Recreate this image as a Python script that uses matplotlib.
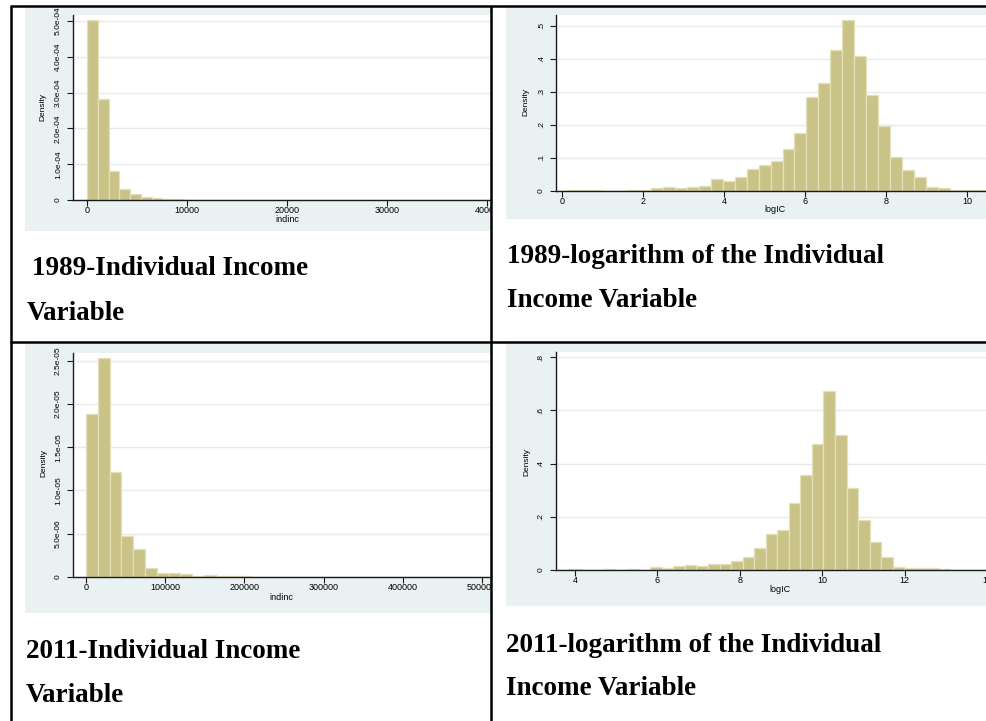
import numpy as np
import matplotlib
matplotlib.use("Agg")
import matplotlib.pyplot as plt
from matplotlib import font_manager
from matplotlib.patches import Rectangle
from matplotlib.lines import Line2D
from matplotlib.transforms import Bbox, TransformedBbox

W, H = 987, 721

# ---- histogram data (bin start, bin width, density per bin) ----
inc89_start, inc89_width = 0, 1075
inc89_density = np.array([5.03, 2.82, 0.80, 0.31, 0.17, 0.09, 0.056, 0.028, 0.02,
                          0.012, 0.008, 0.006, 0.006, 0.004, 0.004, 0.003, 0.003,
                          0.002, 0, 0.001, 0, 0, 0, 0.002, 0.001, 0, 0, 0, 0, 0,
                          0, 0, 0, 0.001, 0, 0, 0]) * 1e-4

log89_start, log89_width = 0.133, 0.295
log89_density = np.array([0.002, 0.002, 0.002, 0, 0, 0.002, 0.001, 0.007, 0.010,
                          0.008, 0.011, 0.014, 0.035, 0.029, 0.041, 0.066, 0.079,
                          0.091, 0.125, 0.174, 0.284, 0.325, 0.426, 0.518, 0.408,
                          0.289, 0.196, 0.102, 0.063, 0.041, 0.011, 0.009, 0.001,
                          0.002, 0.001])

inc11_start, inc11_width = 0, 14900
inc11_density = np.array([18.9, 25.3, 12.1, 4.68, 3.17, 0.97, 0.43, 0.43, 0.30,
                          0.08, 0.15, 0.03, 0.03, 0.03, 0, 0.02, 0, 0, 0.02, 0.02,
                          0.02, 0.02, 0, 0.02, 0, 0, 0, 0, 0, 0, 0, 0, 0.02]) * 1e-6

log11_start, log11_width = 3.870, 0.2801
log11_density = np.array([0.002, 0, 0, 0.003, 0, 0.003, 0, 0.010, 0.006, 0.014,
                          0.018, 0.015, 0.023, 0.021, 0.034, 0.048, 0.084, 0.137,
                          0.149, 0.251, 0.359, 0.475, 0.673, 0.507, 0.307, 0.187,
                          0.107, 0.048, 0.010, 0.006, 0.006, 0.006, 0.002])

inc89_xticks = [0, 10000, 20000, 30000, 40000]
inc89_yticks = [0, 1e-4, 2e-4, 3e-4, 4e-4, 5e-4]
inc89_ylabels = ["0", "1.0e-04", "2.0e-04", "3.0e-04", "4.0e-04", "5.0e-04"]

log89_xticks = [0, 2, 4, 6, 8, 10]
log89_yticks = [0, 0.1, 0.2, 0.3, 0.4, 0.5]
log89_ylabels = ["0", ".1", ".2", ".3", ".4", ".5"]

inc11_xticks = [0, 100000, 200000, 300000, 400000, 500000]
inc11_yticks = [0, 5e-6, 1e-5, 1.5e-5, 2e-5, 2.5e-5]
inc11_ylabels = ["0", "5.0e-06", "1.0e-05", "1.5e-05", "2.0e-05", "2.5e-05"]

log11_xticks = [4, 6, 8, 10, 12, 14]
log11_yticks = [0, 0.2, 0.4, 0.6, 0.8]
log11_ylabels = ["0", ".2", ".4", ".6", ".8"]

captions = [
    ("1989-Individual Income", "Variable"),
    ("1989-logarithm of the Individual", "Income Variable"),
    ("2011-Individual Income", "Variable"),
    ("2011-logarithm of the Individual", "Income Variable"),
]

# ---- styling ----
GRAPH_BG = "#eaf1f3"
GRID = "#e3ebee"
BAR = "#cac388"
BAR_EDGE = "#e4e0bb"

names = {f.name for f in font_manager.fontManager.ttflist}
NARROW = "Liberation Sans Narrow" if "Liberation Sans Narrow" in names else "Liberation Sans"
SANS = "Liberation Sans"
SERIF = "Liberation Serif"

fig = plt.figure(figsize=(W / 100, H / 100), dpi=100)
fig.patch.set_facecolor("white")


def fx(x):
    return x / W


def fy(y):
    return 1 - y / H


def cell_clip(x0, y0, x1, y1):
    return TransformedBbox(Bbox([[fx(x0), fy(y1)], [fx(x1), fy(y0)]]), fig.transFigure)


def histogram(cell, bg, plot, start, width, dens, xlim, ylim,
              xticks, yticks, ylabels, xlabel, xlabel_pos, ylabel_pos):
    # grey graph region behind the plot
    fig.add_artist(Rectangle((fx(bg[0]), fy(bg[3])), fx(bg[2]) - fx(bg[0]),
                             fy(bg[1]) - fy(bg[3]), transform=fig.transFigure,
                             facecolor=GRAPH_BG, edgecolor="none", zorder=0))
    ax = fig.add_axes([fx(plot[0]), fy(plot[3]), fx(plot[2]) - fx(plot[0]),
                       fy(plot[1]) - fy(plot[3])])
    ax.set_facecolor("white")
    left_edges = start + width * np.arange(len(dens))
    ax.bar(left_edges, dens, width=width, align="edge", color=BAR,
           edgecolor=BAR_EDGE, linewidth=0.9, zorder=2)
    ax.set_xlim(*xlim)
    ax.set_ylim(*ylim)
    ax.set_axisbelow(True)
    ax.yaxis.grid(True, color=GRID, linewidth=1.0)
    for s in ("top", "right"):
        ax.spines[s].set_visible(False)
    for s in ("left", "bottom"):
        ax.spines[s].set_color("#1a1a1a")
        ax.spines[s].set_linewidth(1.0)
        ax.spines[s].set_zorder(3)
    ax.set_xticks(xticks, [str(t) for t in xticks], fontsize=6.5, family=SANS)
    ax.set_yticks(yticks, ylabels, fontsize=6, family=NARROW,
                  rotation=90, va="center")
    ax.tick_params(axis="both", direction="out", length=4, width=0.8,
                   color="#1a1a1a")
    ax.tick_params(axis="x", pad=0.5)
    ax.tick_params(axis="y", pad=4)
    clip = cell_clip(*cell)
    for lbl in ax.get_xticklabels() + ax.get_yticklabels():
        lbl.set_clip_box(clip)
        lbl.set_clip_on(True)
    fig.text(fx(xlabel_pos[0]), fy(xlabel_pos[1]), xlabel, fontsize=6.5,
             family=SANS, ha="center", va="center")
    fig.text(fx(ylabel_pos[0]), fy(ylabel_pos[1]), "Density", fontsize=6,
             family=NARROW, ha="center", va="center", rotation=90)
    return ax


histogram((11, 6, 491, 342), (25, 7, 491, 231), (73, 15, 491, 200),
          inc89_start, inc89_width, inc89_density, (-1400, 40400), (0, 5.17e-4),
          inc89_xticks, inc89_yticks, inc89_ylabels, "indinc", (287, 220), (43, 107))

histogram((491, 6, 987, 342), (506, 7, 987, 219), (556, 15, 987, 190.7),
          log89_start, log89_width, log89_density, (-0.148, 10.49), (0, 0.532),
          log89_xticks, log89_yticks, log89_ylabels, "logIC", (775, 209), (526, 102))

histogram((11, 342, 491, 721), (25, 344, 491, 613), (73, 352.7, 491, 576.7),
          inc11_start, inc11_width, inc11_density, (-16400, 511360), (0, 2.596e-5),
          inc11_xticks, inc11_yticks, inc11_ylabels, "indinc", (281, 598), (44, 463))

histogram((491, 342, 987, 721), (506, 343, 987, 606), (555.7, 352, 987, 570),
          log11_start, log11_width, log11_density, (3.536, 13.90), (0, 0.82),
          log11_xticks, log11_yticks, log11_ylabels, "logIC", (780, 590), (527, 462))

# ---- captions under each graph ----
caption_pos = [((32, 275), (27, 320)), ((507, 263), (507, 307)),
               ((26, 658), (26, 702)), ((506, 652), (506, 695))]
for (line1, line2), (p1, p2) in zip(captions, caption_pos):
    fig.text(fx(p1[0]), fy(p1[1]), line1, fontsize=19.5, family=SERIF,
             fontweight="bold", ha="left", va="baseline")
    fig.text(fx(p2[0]), fy(p2[1]), line2, fontsize=19.5, family=SERIF,
             fontweight="bold", ha="left", va="baseline")

# ---- table rules ----
rules = [((10, 987), (6, 6)), ((11, 11), (6, 721)), ((491, 491), (6, 721)),
         ((10, 987), (342, 342))]
for xs, ys in rules:
    fig.add_artist(Line2D([fx(x) for x in xs], [fy(y) for y in ys],
                          transform=fig.transFigure, color="black",
                          linewidth=1.8, solid_capstyle="butt", zorder=5))

fig.savefig("out.png", dpi=100)
